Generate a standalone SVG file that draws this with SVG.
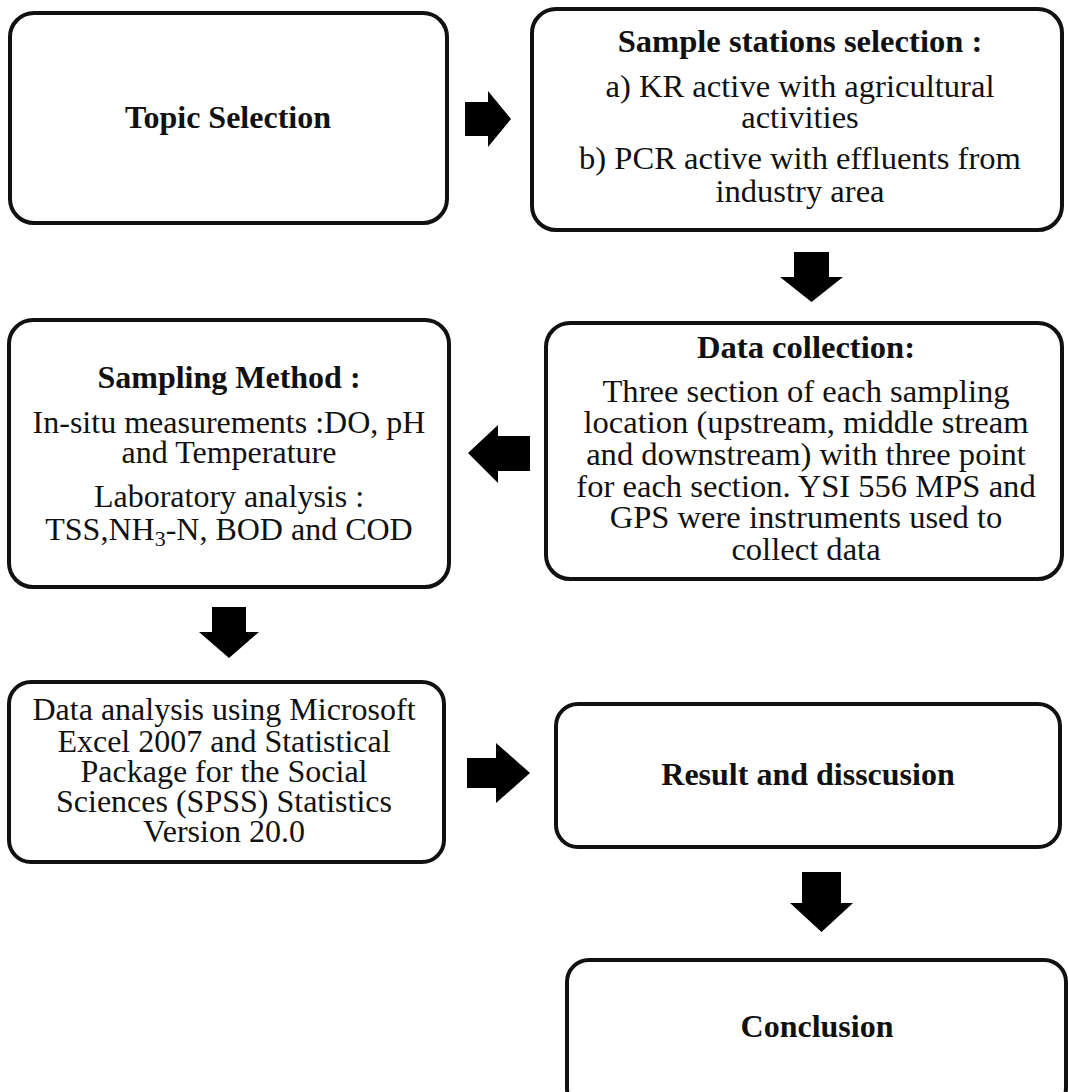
<svg xmlns="http://www.w3.org/2000/svg" width="1068" height="1092" viewBox="0 0 1068 1092">
<style>
.box{fill:#fff;stroke:#111;stroke-width:4}
.arrow{fill:#000;stroke:none}
text{font-family:"Liberation Serif","Times New Roman",serif;font-size:32px;fill:#111;text-anchor:middle}
.b{font-weight:bold}
.w{font-size:32.6px}
</style>
<rect width="1068" height="1092" fill="#fff"/>
<g id="connectors">
<polygon class="arrow" points="465,102 488,102 488,91 511,119 488,147 488,136 465,136"/>
<polygon class="arrow" points="794,252 829,252 829,277 843,277 811.5,302 780,277 794,277"/>
<polygon class="arrow" points="530,436 498,436 498,425 468,453 498,483 498,471 530,471"/>
<polygon class="arrow" points="212,607 246,607 246,632 259,632 229,658 199,632 212,632"/>
<polygon class="arrow" points="467,758 496,758 496,743 530,773 496,803 496,788 467,788"/>
<polygon class="arrow" points="802,872 841,872 841,903 853,903 821.5,932 790,903 802,903"/>
</g>
<g id="topic">
<rect class="box" x="10" y="13" width="437" height="210" rx="24"/>
<text class="b" x="228" y="128">Topic Selection</text>
</g>
<g id="stations">
<rect class="box" x="532" y="9" width="530" height="221" rx="24"/>
<text class="b w" x="800" y="52">Sample stations selection :</text>
<text class="w" x="800" y="97">a) KR active with agricultural</text>
<text class="w" x="800" y="128">activities</text>
<text class="w" x="800" y="169">b) PCR active with effluents from</text>
<text class="w" x="800" y="202">industry area</text>
</g>
<g id="sampling">
<rect class="box" x="9" y="320" width="440" height="267" rx="24"/>
<text class="b" x="229" y="388">Sampling Method :</text>
<text x="229" y="433">In-situ measurements :DO, pH</text>
<text x="229" y="463">and Temperature</text>
<text x="229" y="507">Laboratory analysis :</text>
<text x="229" y="540">TSS,NH<tspan font-size="22" dy="6">3</tspan><tspan dy="-6">-N, BOD and COD</tspan></text>
</g>
<g id="collection">
<rect class="box" x="546" y="323" width="516" height="256" rx="24"/>
<text class="b w" x="806" y="358">Data collection:</text>
<text class="w" x="806" y="402">Three section of each sampling</text>
<text class="w" x="806" y="433">location (upstream, middle stream</text>
<text class="w" x="806" y="465">and downstream) with three point</text>
<text class="w" x="806" y="497">for each section. YSI 556 MPS and</text>
<text class="w" x="806" y="528">GPS were instruments used to</text>
<text class="w" x="806" y="560">collect data</text>
</g>
<g id="analysis">
<rect class="box" x="9" y="682" width="435" height="180" rx="22"/>
<text x="224" y="720">Data analysis using Microsoft</text>
<text x="224" y="752">Excel 2007 and Statistical</text>
<text x="224" y="782">Package for the Social</text>
<text x="224" y="812">Sciences (SPSS) Statistics</text>
<text x="224" y="842">Version 20.0</text>
</g>
<g id="result">
<rect class="box" x="556" y="704" width="504" height="143" rx="22"/>
<text class="b" x="808" y="785">Result and disscusion</text>
</g>
<g id="conclusion">
<rect class="box" x="567" y="960" width="499" height="150" rx="22"/>
<text class="b" x="817" y="1037">Conclusion</text>
</g>
</svg>
